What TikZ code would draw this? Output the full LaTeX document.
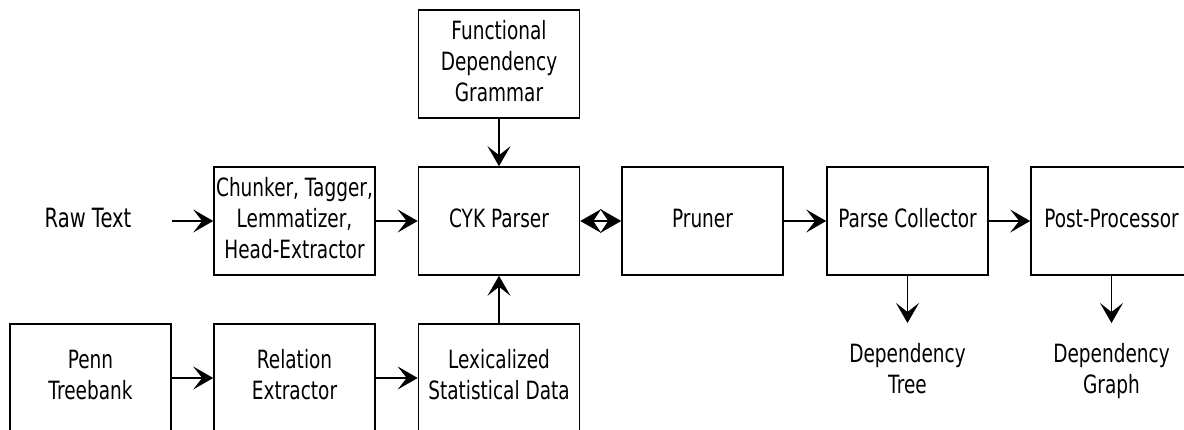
\documentclass[tikz,border=0pt]{standalone}
\usepackage{fontspec}
\usepackage{graphicx}
\setmainfont{DejaVu Sans}
\usetikzlibrary{arrows.meta}
\newcommand\tx[2][0pt]{\raisebox{#1}{\scalebox{1}[1.36]{\begin{tabular}{@{}c@{}}#2\end{tabular}}}}
\begin{document}
\begin{tikzpicture}[x=1pt,y=-1pt,
  box/.style={draw,line width=1.6pt,minimum width=161pt,minimum height=108pt,inner sep=0pt,align=center,font=\fontsize{18.5}{22.8}\selectfont},
  lbl/.style={inner sep=0pt,align=center,font=\fontsize{18.5}{22.8}\selectfont},
  arr/.style={line width=1.6pt,-{Stealth[length=20pt,width=23pt,inset=9pt]}},
  darr/.style={line width=1.6pt,{Stealth[length=21pt,width=24pt,inset=8pt]}-{Stealth[length=21pt,width=24pt,inset=8pt]}}]
\useasboundingbox (0,0) rectangle (1184,430);
\node[box] (func) at (499,64) {\tx[-2pt]{Functional\\Dependency\\Grammar}};
\node[box] (chunk) at (294.5,221) {\tx[-2pt]{Chunker, Tagger,\\Lemmatizer,\\Head-Extractor}};
\node[box] (cyk) at (499,221) {\tx[-3pt]{CYK Parser}};
\node[box] (pruner) at (702.5,221) {\tx[-3pt]{Pruner}};
\node[box] (pc) at (907.5,221) {\tx[-3pt]{Parse Collector}};
\node[box] (pp) at (1111.5,221) {\tx[-3pt]{Post-Processor}};
\node[box] (penn) at (90.5,378) {\tx[5pt]{Penn\\Treebank}};
\node[box] (rel) at (294.5,378) {\tx[5pt]{Relation\\Extractor}};
\node[box] (lex) at (499,378) {\tx[5pt]{Lexicalized\\Statistical Data}};
\node[lbl] (raw) at (88,221) {\tx[-3pt]{\fontsize{19.5}{22.8}\selectfont Raw Text}};
\node[lbl] (dtree) at (907.5,372) {\tx{Dependency\\Tree}};
\node[lbl] (dgraph) at (1111.5,372) {\tx{Dependency\\Graph}};
\draw[arr,shorten <=40pt] (raw.east) -- (raw.east -| chunk.west);
\draw[arr] (chunk.east) -- (cyk.west);
\draw[darr] (cyk.east) -- (pruner.west);
\draw[arr] (pruner.east) -- (pc.west);
\draw[arr] (pc.east) -- (pp.west);
\draw[arr] (func.south) -- (cyk.north);
\draw[arr] (lex.north) -- (cyk.south);
\draw[arr] (penn.east) -- (rel.west);
\draw[arr] (rel.east) -- (lex.west);
\draw[arr] (pc.south) -- (pc.south |- 0,323);
\draw[arr] (pp.south) -- (pp.south |- 0,323);
\end{tikzpicture}
\end{document}
